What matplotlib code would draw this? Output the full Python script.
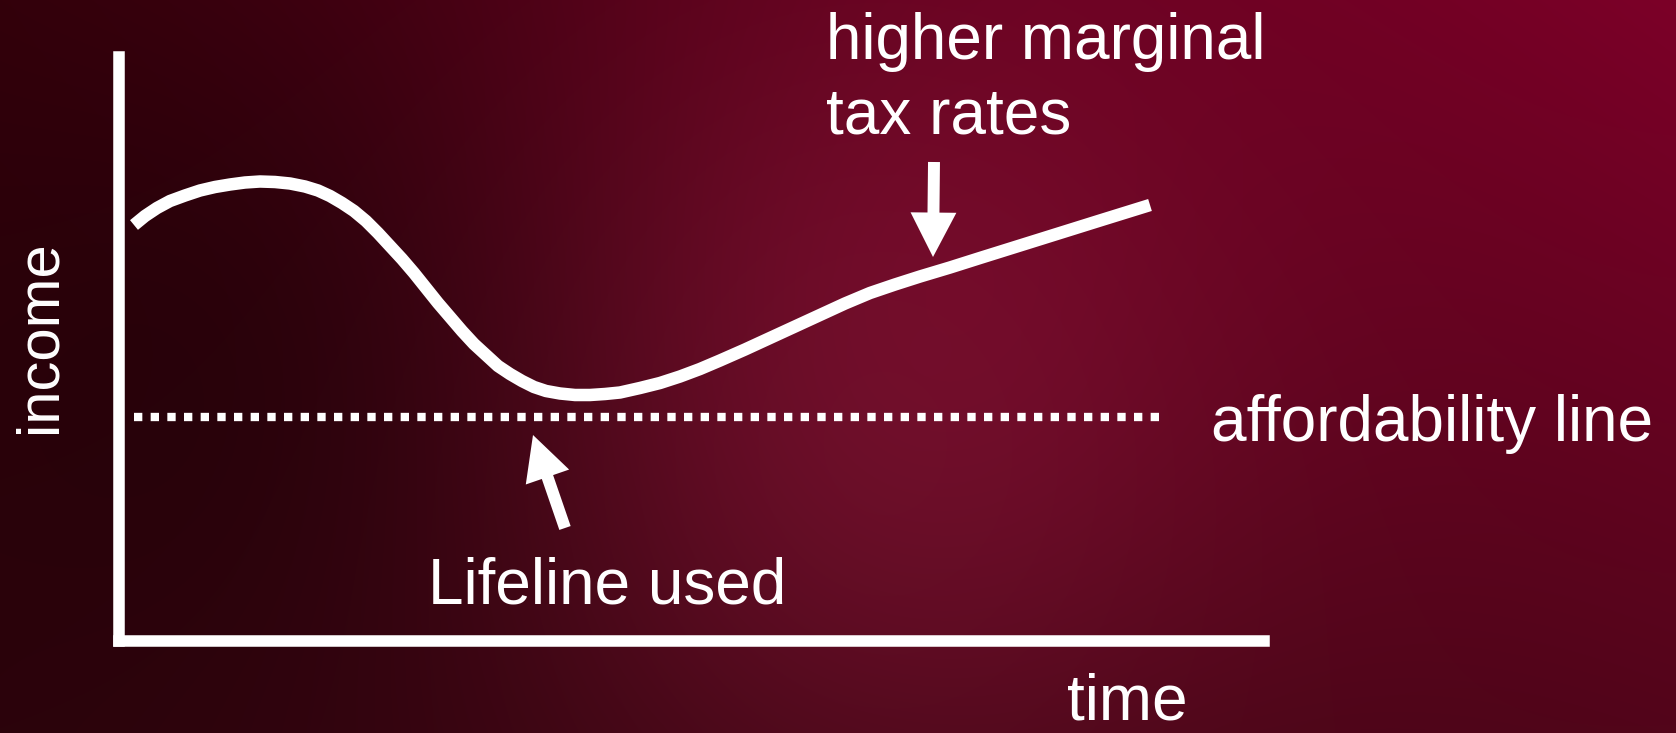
import numpy as np
import matplotlib
matplotlib.use("Agg")
import matplotlib.pyplot as plt
from matplotlib.patches import FancyArrowPatch, ArrowStyle

W, H, DPI = 1676, 733, 100

# ---- data (conceptual chart, arbitrary units) ----
time_pts = [1.5, 2.6, 3.8, 5.1, 6.6, 8.1, 9.6, 11.1, 12.6, 14.1, 15.6, 17.1, 18.6,
            19.9, 21.1, 22.3, 23.5, 24.7, 25.9, 27.1, 28.3, 29.5, 30.7, 31.9, 33.1,
            34.3, 35.5, 36.7, 37.9, 39.1, 40.3, 41.5, 42.7, 44.1, 45.6, 47.1, 48.6,
            50.1, 52.1, 54.1, 56.1, 58.1, 60.1, 62.6, 65.1, 67.6, 70.1, 72.6, 75.1,
            77.6, 80.1, 83.1, 86.1, 90.1, 94.1, 98.1, 103.1]
income_pts = [83.2, 85.0, 86.6, 88.0, 89.1, 90.1, 90.8, 91.3, 91.7, 91.9, 91.8, 91.5,
              90.9, 90.1, 89.0, 87.6, 86.0, 84.0, 81.6, 79.0, 76.4, 73.6, 70.6, 67.6,
              64.8, 62.0, 59.4, 57.2, 55.0, 53.4, 52.0, 50.8, 50.0, 49.5, 49.2, 49.2,
              49.4, 49.7, 50.6, 51.6, 52.9, 54.4, 56.1, 58.3, 60.6, 62.9, 65.2, 67.5,
              69.6, 71.3, 72.9, 74.7, 76.6, 79.1, 81.6, 84.1, 87.2]
afford_level = 44.8
afford_start, afford_end = 1.5, 104.8
tax_arrow = [(81.5, 95.8), (81.4, 76.8)]        # (time, income) tail -> tip
lifeline_arrow = [(44.6, 22.6), (41.4, 41.2)]
x_max, y_max = 114.5, 116.8

labels = {
    "ylabel": "income",
    "xlabel": "time",
    "afford": "affordability line",
    "tax1": "higher marginal",
    "tax2": "tax rates",
    "lifeline": "Lifeline used",
}

plt.rcParams['font.family'] = ['Liberation Sans', 'DejaVu Sans']

fig = plt.figure(figsize=(W / DPI, H / DPI), dpi=DPI)

# ---- background (decorative gradient) ----
bg = fig.add_axes([0, 0, 1, 1])
yy, xx = np.mgrid[0:H, 0:W]
u = (xx / W)[..., None]
v = (yy / H)[..., None]
tl = np.array([55, 0, 12.0])
tr = np.array([124, 0, 40.0])
bl = np.array([46, 3, 12.0])
br = np.array([82, 5, 26.0])
img = (1 - u) * (1 - v) * tl + u * (1 - v) * tr + (1 - u) * v * bl + u * v * br
blob = np.exp(-(((xx - 880) / 260.0) ** 2 + ((yy - 400) / 300.0) ** 2) / 2)
img += blob[..., None] * np.array([36, 12, 20.0])
dark = np.exp(-(((xx - 280) / 240.0) ** 2 + ((yy - 330) / 260.0) ** 2) / 2)
img -= dark[..., None] * np.array([18, 0, 5.0])
img = np.clip(img, 0, 255) / 255.0
bg.imshow(img, aspect='auto', extent=[0, W, H, 0])
bg.set_xlim(0, W)
bg.set_ylim(H, 0)
bg.axis('off')

# ---- plot axes ----
def fx(px):
    return px / W

def fy(py):
    return 1 - py / H

left, right, top, bottom = 119, 1264, 57, 641
ax = fig.add_axes([fx(left), fy(bottom), fx(right) - fx(left), fy(top) - fy(bottom)])
ax.set_facecolor('none')
ax.set_xlim(0, x_max)
ax.set_ylim(0, y_max)
for s in ['top', 'right']:
    ax.spines[s].set_visible(False)
for s in ['left', 'bottom']:
    ax.spines[s].set_color('white')
    ax.spines[s].set_linewidth(8.3)
    ax.spines[s].set_capstyle('projecting')
ax.set_xticks([])
ax.set_yticks([])

ax.plot(time_pts, income_pts, color='white', lw=9.0, solid_capstyle='butt',
        solid_joinstyle='round')
ax.plot([afford_start, afford_end], [afford_level, afford_level], color='white',
        lw=6.0, dashes=(1, 1), dash_capstyle='butt')

style = ArrowStyle('Simple', head_length=32, head_width=33, tail_width=8.6)
for (a, b) in [tax_arrow, lifeline_arrow]:
    ax.add_patch(FancyArrowPatch(a, b, arrowstyle=style, mutation_scale=1,
                                 color='white', lw=0, shrinkA=0, shrinkB=0,
                                 clip_on=False))

fs = 46
fig.text(fx(826), fy(59), labels["tax1"], color='white', fontsize=fs,
         ha='left', va='baseline')
fig.text(fx(826), fy(134), labels["tax2"], color='white', fontsize=fs,
         ha='left', va='baseline')
fig.text(fx(1211), fy(441), labels["afford"], color='white', fontsize=fs,
         ha='left', va='baseline')
fig.text(fx(428), fy(604), labels["lifeline"], color='white', fontsize=fs,
         ha='left', va='baseline')
fig.text(fx(1067), fy(720), labels["xlabel"], color='white', fontsize=fs,
         ha='left', va='baseline')
fig.text(fx(40), fy(337), labels["ylabel"], color='white', fontsize=43,
         ha='center', va='center', rotation=90)

fig.savefig("out.png", dpi=DPI)
